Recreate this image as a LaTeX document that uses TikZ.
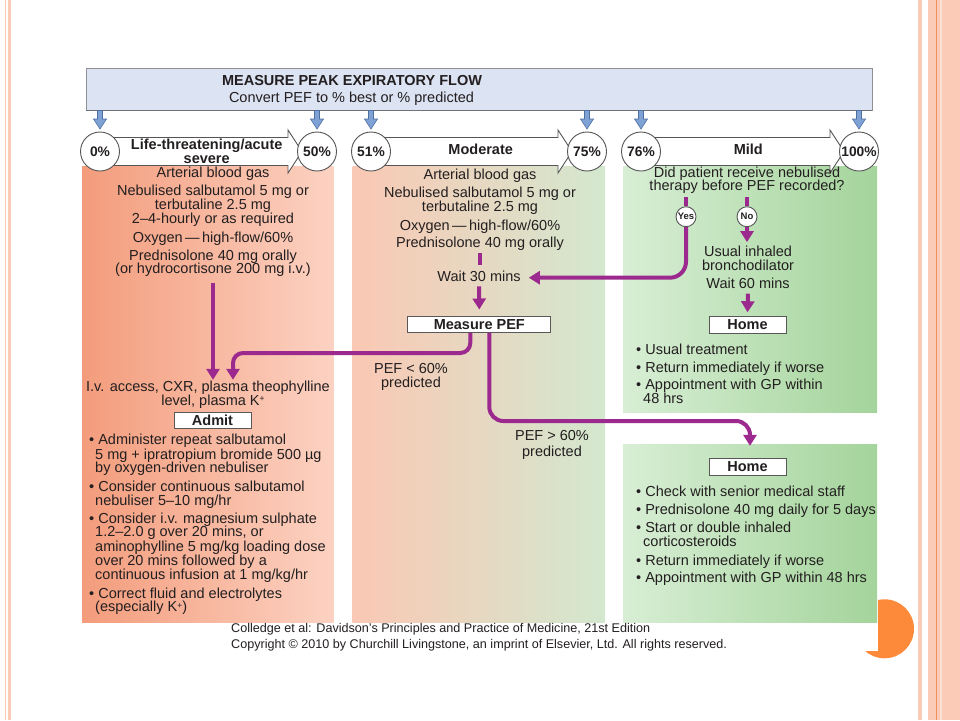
\documentclass[tikz,border=0pt]{standalone}
\usepackage{fontspec}
\setmainfont{Liberation Sans}
\usetikzlibrary{arrows.meta,calc}
\definecolor{ink}{HTML}{231F20}
\definecolor{pur}{HTML}{9C2A8E}
\definecolor{hdrfill}{HTML}{DCE3F2}
\definecolor{hdrline}{HTML}{8E9096}
\definecolor{barrfill}{HTML}{7FA2D5}
\definecolor{barrline}{HTML}{4F6FA3}
\definecolor{salA}{HTML}{F39C7C}
\definecolor{salB}{HTML}{FCD2C2}
\definecolor{midA}{HTML}{FAC8B4}
\definecolor{midB}{HTML}{D3E8CF}
\definecolor{grnA}{HTML}{D8EED5}
\definecolor{grnB}{HTML}{A4D49B}
\definecolor{deco}{HTML}{FBCBB8}
\definecolor{decodark}{HTML}{F0905F}
\definecolor{disc}{HTML}{FD8A3B}
\definecolor{ringc}{HTML}{555555}
\newcommand{\supplus}{\raisebox{3.2pt}{\fontsize{8.5}{8.5}\selectfont +}}
\begin{document}
\begin{tikzpicture}[x=1pt,y=-1pt,
 bodytxt/.style={inner sep=0pt,text=ink,font=\fontsize{14.5}{14.5}\selectfont,text height=10pt,text depth=3pt},
 boldtxt/.style={bodytxt,font=\fontsize{14.5}{14.5}\selectfont\bfseries},
 lefttxt/.style={bodytxt,anchor=west},
 labelbox/.style={draw=ink!75,fill=white,line width=0.8pt,minimum width=77pt,minimum height=16.6pt,inner sep=0pt,text=ink,font=\fontsize{14.5}{14.5}\selectfont\bfseries},
 pctnode/.style={circle,draw=ringc,fill=white,line width=0.9pt,minimum size=39pt,inner sep=0pt,text=ink,font=\fontsize{13.8}{14}\selectfont\bfseries},
 ynnode/.style={circle,draw=ringc,fill=white,line width=0.9pt,minimum size=20pt,inner sep=0pt,text=ink,font=\fontsize{9.5}{10}\selectfont\bfseries},
 band/.style={draw=ringc,fill=white,line width=0.9pt},
 flow/.style={draw=pur,line width=4pt,-{Triangle[width=13pt,length=11pt]}},
 flowline/.style={draw=pur,line width=4pt},
 column/.style={inner sep=0pt,draw=none},
 hdrarrow/.style={fill=barrfill,draw=barrline,line width=0.6pt},
 captxt/.style={inner sep=0pt,anchor=west,text=ink,font=\fontsize{12.6}{12.8}\selectfont}
]
\useasboundingbox (0,0) rectangle (960,720);
\fill[white] (0,0) rectangle (960,720);
% slide decoration
\fill[deco] (5,0) rectangle (6.3,720);
\fill[deco] (7.7,0) rectangle (11.3,720);
\fill[deco] (917.7,0) rectangle (922,720);
\fill[deco] (928,0) rectangle (960,720);
\fill[decodark] (935.6,0) rectangle (936.9,720);
\fill[deco!60!white] (940,0) rectangle (942,720);
\fill[disc] (884.5,628.8) circle (29.5);
\fill[white] (850,595) rectangle (878,651);

% columns
\node[column,left color=salA,right color=salB,minimum width=251.5pt,minimum height=456pt] (colL) at (207.75,394) {};
\node[column,left color=midA,right color=midB,minimum width=252.5pt,minimum height=456pt] (colM) at (478.75,394) {};
\node[column,left color=grnA,right color=grnB,minimum width=254pt,minimum height=246.7pt] (colR1) at (750,289.35) {};
\node[column,left color=grnA,right color=grnB,minimum width=254pt,minimum height=178pt] (colR2) at (750,533) {};

% header
\node[draw=hdrline,fill=hdrfill,line width=0.8pt,minimum width=786pt,minimum height=42pt,inner sep=0pt] (hdr) at (479,89) {};
\draw[hdrline!80!black,line width=1.5pt] (hdr.south west) -- (hdr.south east);
\node[boldtxt] (h1) at (352,81.7) {MEASURE PEAK EXPIRATORY FLOW};
\node[bodytxt] (h2) at (351.5,99) {Convert PEF to \% best or \% predicted};
\foreach \x in {100,317,371,587,641,859}
  \draw[hdrarrow] (\x-2.5,110.5) -- (\x+2.5,110.5) -- (\x+2.5,119) -- (\x+6.5,119) -- (\x,129) -- (\x-6.5,119) -- (\x-2.5,119) -- cycle;

% bands
\foreach \a/\b in {100/317,371/587,641/859}
  \draw[band] (\a+5,137.5) -- (\b-29,137.5) -- (\b-29,130) -- (\b-15,151.5) -- (\b-29,173) -- (\b-29,165.5) -- (\a+5,165.5) -- cycle;
\node[pctnode] (c0) at (100,151.5) {0\%};
\node[pctnode] (c50) at (317,151.5) {50\%};
\node[pctnode] (c51) at (371,151.5) {51\%};
\node[pctnode] (c75) at (587,151.5) {75\%};
\node[pctnode] (c76) at (641,151.5) {76\%};
\node[pctnode] (c100) at (859,151.5) {100\%};
\node[boldtxt] (bl1) at (206.7,146.3) {Life-threatening/acute};
\node[boldtxt] (bl2) at (206.7,159.5) {severe};
\node[boldtxt] (bm) at (480.7,150.7) {Moderate};
\node[boldtxt] (br) at (748.3,150.7) {Mild};

% left column
\node[bodytxt] (l1) at (213,174) {Arterial blood gas};
\node[bodytxt] (l2) at (213,192) {Nebulised salbutamol 5 mg or};
\node[bodytxt] (l3) at (213,206) {terbutaline 2.5 mg};
\node[bodytxt] (l4) at (213,220) {2–4-hourly or as required};
\node[bodytxt] (l5) at (213,238.5) {Oxygen\,—\,high-flow/60\%};
\node[bodytxt] (l6) at (213,256.5) {Prednisolone 40 mg orally};
\node[bodytxt] (l7) at (213,270) {(or hydrocortisone 200 mg i.v.)};
\node[bodytxt] (iv1) at (208,388) {I.v. access, CXR, plasma theophylline};
\node[bodytxt] (iv2) at (213,401.5) {level, plasma K\supplus};
\node[labelbox] (admit) at (212.5,420.3) {Admit};
\node[lefttxt] (a1) at (89,440.7) {• Administer repeat salbutamol};
\node[lefttxt] (a2) at (95,455.7) {5 mg + ipratropium bromide 500 µg};
\node[lefttxt] (a3) at (95,469.3) {by oxygen-driven nebuliser};
\node[lefttxt] (a4) at (89,488.3) {• Consider continuous salbutamol};
\node[lefttxt] (a5) at (95,502) {nebuliser 5–10 mg/hr};
\node[lefttxt] (a6) at (89,520) {• Consider i.v. magnesium sulphate};
\node[lefttxt] (a7) at (95,533.3) {1.2–2.0 g over 20 mins, or};
\node[lefttxt] (a8) at (95,547.7) {aminophylline 5 mg/kg loading dose};
\node[lefttxt] (a9) at (95,562) {over 20 mins followed by a};
\node[lefttxt] (a10) at (95,576) {continuous infusion at 1 mg/kg/hr};
\node[lefttxt] (a11) at (89,595) {• Correct fluid and electrolytes};
\node[lefttxt] (a12) at (95,608.3) {(especially K\supplus)};

% middle column
\node[bodytxt] (m1) at (480,176) {Arterial blood gas};
\node[bodytxt] (m2) at (480,194) {Nebulised salbutamol 5 mg or};
\node[bodytxt] (m3) at (480,208.3) {terbutaline 2.5 mg};
\node[bodytxt] (m4) at (480,226.7) {Oxygen\,—\,high-flow/60\%};
\node[bodytxt] (m5) at (480,244.3) {Prednisolone 40 mg orally};
\node[bodytxt] (wait30) at (479,277.7) {Wait 30 mins};
\node[labelbox,minimum width=143pt] (pef) at (479.3,324.2) {Measure PEF};
\node[bodytxt] (lt1) at (411,370) {PEF < 60\%};
\node[bodytxt] (lt2) at (411,383.5) {predicted};
\node[bodytxt] (gt1) at (552,437.3) {PEF > 60\%};
\node[bodytxt] (gt2) at (552,452.7) {predicted};

% right column
\node[bodytxt] (q1) at (747,174) {Did patient receive nebulised};
\node[bodytxt] (q2) at (747,187.3) {therapy before PEF recorded?};
\node[ynnode] (yes) at (686,216.7) {Yes};
\node[ynnode] (no) at (747,216.7) {No};
\node[bodytxt] (inh1) at (748,253.3) {Usual inhaled};
\node[bodytxt] (inh2) at (748,266.7) {bronchodilator};
\node[bodytxt] (wait60) at (748,285) {Wait 60 mins};
\node[labelbox] (home1) at (747.5,325) {Home};
\node[lefttxt] (r1) at (636,351) {• Usual treatment};
\node[lefttxt] (r2) at (636,369) {• Return immediately if worse};
\node[lefttxt] (r3) at (636,386) {• Appointment with GP within};
\node[lefttxt] (r4) at (643,400) {48 hrs};
\node[labelbox] (home2) at (747.5,466.7) {Home};
\node[lefttxt] (s1) at (636,492.7) {• Check with senior medical staff};
\node[lefttxt] (s2) at (636,510.7) {• Prednisolone 40 mg daily for 5 days};
\node[lefttxt] (s3) at (636,528.7) {• Start or double inhaled};
\node[lefttxt] (s4) at (643,542.7) {corticosteroids};
\node[lefttxt] (s5) at (636,561.7) {• Return immediately if worse};
\node[lefttxt] (s6) at (636,579.3) {• Appointment with GP within 48 hrs};

% connectors
\coordinate (ivtop) at (l7.south |- iv1.north);
\draw[flow] ([yshift=-6pt]l7.south) -- ([yshift=1.5pt]ivtop);
\coordinate (kbend) at (233,353);
\draw[flow,rounded corners=10pt] ([xshift=-9pt]pef.south) |- (kbend) -- ([xshift=25pt,yshift=1.5pt]iv1.north);
\coordinate (hbend) at (750,421);
\draw[flow,rounded corners=14pt] ([xshift=10pt]pef.south) |- (hbend) -- ([yshift=-2pt]colR2.north);
\draw[flowline] ([yshift=-2pt]m5.south) -- ++(0,12);
\draw[flow] ([yshift=-2pt]wait30.south) -- ([yshift=6pt]pef.north);
\draw[flowline] (yes.north) -- ++(0,-9);
\draw[flowline] (no.north) -- ++(0,-9);
\draw[flow,rounded corners=16pt] (yes.south) |- ([xshift=8pt]wait30.east);
\draw[flow] (no.south) -- ++(0,15);
\draw[flow] ([yshift=-2pt]wait60.south) -- ([yshift=4pt]home1.north);

% caption
\node[captxt] (cap1) at (231,629) {Colledge et al: Davidson's Principles and Practice of Medicine, 21st Edition};
\node[captxt] (cap2) at (231,645.5) {Copyright © 2010 by Churchill Livingstone, an imprint of Elsevier, Ltd. All rights reserved.};
\end{tikzpicture}
\end{document}
